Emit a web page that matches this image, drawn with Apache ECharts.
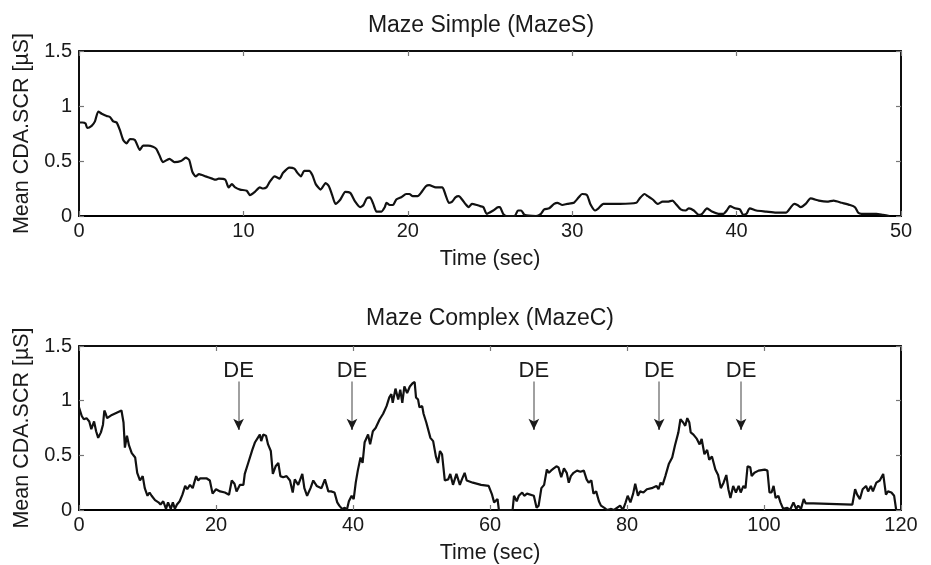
<!DOCTYPE html>
<html>
<head>
<meta charset="utf-8">
<script src="https://cdn.jsdelivr.net/npm/echarts@6/dist/echarts.min.js"></script>
<style>
html, body { margin: 0; padding: 0; background: #fff; }
#main { width: 931px; height: 565px; }
</style>
</head>
<body>
<div id="main"></div>
<script>
/** ---------------- 数据 ---------------- */
// Maze Simple (MazeS)
var timeS = [0, 0.2, 0.4, 0.5, 0.77, 0.97, 1.17, 1.38, 1.68, 1.88, 2.08, 2.29, 2.49, 2.69, 2.89, 3.1, 3.4, 3.7, 3.9, 4.2,
	4.5, 4.7, 4.9, 5.1, 5.5, 5.8, 6.2, 6.5, 6.7, 6.9, 7.1, 7.3, 7.7, 8.1, 8.3, 8.5, 8.9, 9.1, 9.3, 9.5,
	9.8, 10.2, 10.4, 10.7, 11.0, 11.2, 11.4, 11.6, 11.9, 12.2, 12.4, 12.8, 13.1, 13.3, 13.5, 13.7, 14.0, 14.2, 14.4, 14.7,
	15.0, 15.2, 15.4, 15.6, 15.9, 16.2, 16.5, 16.8, 17.1, 17.3, 17.5, 17.7, 17.9, 18.1, 18.4, 18.6, 18.7, 18.9, 19.1, 19.3,
	19.6, 19.9, 20.1, 20.3, 20.6, 20.8, 21.1, 21.3, 21.7, 22.1, 22.3, 22.5, 22.7, 22.9, 23.1, 23.3, 23.5, 23.7, 23.9, 24.2,
	24.4, 24.6, 24.8, 25.2, 25.5, 25.6, 25.8, 26.0, 26.5, 26.7, 26.9, 27.1, 27.8, 28.1, 28.3, 28.6, 28.9, 29.1, 29.4, 29.7,
	30.1, 30.4, 30.6, 30.9, 31.1, 31.4, 31.6, 31.9, 32.9, 33.9, 34.1, 34.4, 34.6, 34.9, 35.2, 35.5, 35.8, 36.1, 36.3, 36.6,
	36.9, 37.1, 37.4, 37.7, 37.9, 38.2, 38.5, 38.9, 39.2, 39.4, 39.6, 39.9, 40.2, 40.4, 40.6, 40.8, 41.2, 41.8, 42.4, 43.0,
	43.3, 43.5, 43.7, 43.9, 44.2, 44.5, 45.0, 45.5, 45.9, 46.4, 46.9, 47.2, 47.4, 47.6, 48.5, 48.9, 49.3];
var cdaS = [0.85, 0.85, 0.84, 0.80, 0.82, 0.86, 0.95, 0.93, 0.91, 0.90, 0.86, 0.85, 0.78, 0.69, 0.66, 0.70, 0.69, 0.60, 0.64, 0.64,
	0.63, 0.61, 0.55, 0.49, 0.52, 0.49, 0.50, 0.53, 0.51, 0.40, 0.36, 0.38, 0.36, 0.34, 0.33, 0.34, 0.33, 0.26, 0.29, 0.26,
	0.24, 0.23, 0.19, 0.22, 0.26, 0.25, 0.26, 0.31, 0.36, 0.34, 0.39, 0.44, 0.43, 0.39, 0.36, 0.41, 0.41, 0.37, 0.29, 0.24,
	0.30, 0.27, 0.19, 0.11, 0.15, 0.22, 0.21, 0.13, 0.08, 0.10, 0.16, 0.17, 0.11, 0.04, 0.04, 0.08, 0.12, 0.10, 0.10, 0.15,
	0.17, 0.20, 0.20, 0.18, 0.18, 0.21, 0.27, 0.28, 0.26, 0.26, 0.19, 0.12, 0.13, 0.17, 0.18, 0.15, 0.11, 0.08, 0.11, 0.10,
	0.09, 0.08, 0.02, 0.05, 0.08, 0.08, 0.02, 0, 0, 0.05, 0.05, 0.01, 0, 0.02, 0.06, 0.07, 0.11, 0.12, 0.10, 0.11,
	0.12, 0.17, 0.20, 0.19, 0.11, 0.05, 0.07, 0.11, 0.11, 0.12, 0.16, 0.20, 0.18, 0.15, 0.11, 0.13, 0.13, 0.14, 0.11, 0.06,
	0.05, 0.07, 0.05, 0.01, 0.02, 0.07, 0.04, 0.02, 0.02, 0.05, 0.09, 0.07, 0.06, 0.01, 0.02, 0.07, 0.05, 0.04, 0.03, 0.03,
	0.08, 0.11, 0.10, 0.08, 0.11, 0.16, 0.14, 0.13, 0.14, 0.12, 0.10, 0.08, 0.03, 0.02, 0.02, 0.01, 0];

// Maze Complex (MazeC)
var timeC = [0, 0.4, 0.7, 1.1, 1.5, 1.8, 2.2, 2.5, 2.8, 3.2, 3.5, 3.7, 3.9, 4.1, 4.8, 5.5, 6.2, 6.5, 6.7, 7.0,
	7.3, 7.7, 8.2, 8.5, 8.9, 9.3, 9.6, 10.0, 10.3, 10.6, 11.1, 11.6, 11.9, 12.3, 12.7, 13.0, 13.4, 13.7, 14.0, 14.3,
	14.7, 15.1, 15.5, 15.8, 16.2, 16.6, 17.1, 17.4, 17.7, 18.6, 19.1, 19.5, 20.0, 20.6, 21.3, 21.9, 22.3, 22.7, 23.0, 23.5,
	24.0, 24.2, 24.7, 25.3, 25.7, 26.1, 26.4, 26.6, 26.9, 27.3, 27.6, 28.0, 28.3, 28.7, 29.1, 29.4, 29.8, 30.3, 30.8, 31.2,
	31.5, 32.0, 32.6, 32.9, 33.3, 33.8, 34.2, 34.7, 35.4, 35.9, 36.4, 36.8, 37.3, 37.7, 38.0, 38.4, 38.8, 39.1, 39.4, 39.8,
	40.1, 40.4, 40.7, 41.1, 41.4, 41.7, 42.2, 42.5, 42.9, 43.3, 43.9, 44.4, 44.9, 45.3, 45.6, 45.8, 46.2, 46.6, 46.9, 47.2,
	47.5, 47.9, 48.3, 48.7, 49.0, 49.2, 49.5, 49.7, 50.1, 50.3, 50.7, 50.9, 51.3, 51.7, 52.1, 52.4, 52.7, 53.0, 53.4, 53.9,
	54.2, 54.6, 55.1, 55.6, 55.9, 56.3, 56.6, 57.5, 58.7, 59.8, 60.3, 60.6, 61.1, 61.3, 63.3, 63.5, 63.9, 64.2, 64.7, 65.0,
	65.4, 66.4, 66.8, 67.1, 67.5, 67.9, 68.3, 68.6, 68.9, 69.3, 69.7, 70.0, 70.4, 70.8, 71.2, 71.5, 71.8, 72.2, 72.7, 73.2,
	73.7, 74.1, 74.4, 74.8, 75.1, 75.5, 75.9, 76.2, 76.7, 77.1, 77.7, 78.1, 79.0, 79.4, 79.8, 80.1, 80.5, 80.9, 81.2, 81.6,
	81.9, 82.4, 82.9, 83.6, 84.3, 84.6, 84.9, 85.2, 85.6, 86.1, 86.6, 87.0, 87.5, 87.8, 88.2, 88.5, 88.8, 89.1, 89.3, 89.7,
	90.2, 90.6, 90.9, 91.3, 91.7, 92.0, 92.4, 92.9, 93.3, 93.7, 94.1, 94.5, 94.8, 95.1, 95.5, 95.9, 96.3, 96.6, 97.0, 97.3,
	97.6, 98.0, 98.2, 98.6, 99.2, 100.1, 100.5, 100.8, 101.1, 101.4, 101.7, 102.1, 102.4, 102.8, 103.4, 103.8, 104.3, 104.7, 105.0, 105.4,
	105.8, 106.1, 107.2, 112.9, 113.3, 113.6, 114.0, 114.4, 114.9, 115.2, 115.6, 115.9, 116.4, 116.9, 117.4, 117.8, 118.1, 118.6, 119.0, 119.3];
var cdaC = [0.94, 0.86, 0.83, 0.84, 0.81, 0.74, 0.81, 0.72, 0.66, 0.71, 0.78, 0.91, 0.88, 0.84, 0.87, 0.89, 0.91, 0.80, 0.57, 0.68,
	0.59, 0.52, 0.48, 0.34, 0.27, 0.31, 0.20, 0.13, 0.16, 0.13, 0.09, 0.07, 0.05, 0.08, 0.01, 0.07, 0.01, 0.07, 0.01, 0.05,
	0.08, 0.14, 0.22, 0.19, 0.23, 0.20, 0.31, 0.27, 0.29, 0.29, 0.27, 0.15, 0.19, 0.17, 0.16, 0.14, 0.27, 0.24, 0.17, 0.23,
	0.23, 0.33, 0.43, 0.55, 0.62, 0.66, 0.69, 0.63, 0.69, 0.68, 0.60, 0.54, 0.33, 0.40, 0.43, 0.31, 0.30, 0.31, 0.27, 0.16,
	0.28, 0.23, 0.33, 0.20, 0.13, 0.20, 0.27, 0.22, 0.20, 0.28, 0.17, 0.17, 0.16, 0.07, 0.04, 0.01, 0.02, 0, 0.08, 0.13,
	0.10, 0.25, 0.36, 0.48, 0.43, 0.62, 0.69, 0.60, 0.72, 0.75, 0.83, 0.88, 0.95, 1.03, 1.06, 0.98, 1.11, 1.01, 1.10, 0.98,
	1.13, 1.07, 1.13, 1.16, 1.17, 1.03, 1.01, 0.94, 0.95, 0.88, 0.80, 0.81, 0.66, 0.63, 0.49, 0.43, 0.54, 0.51, 0.27, 0.28,
	0.33, 0.23, 0.33, 0.23, 0.28, 0.34, 0.27, 0.25, 0.23, 0.22, 0.14, 0.07, 0.10, 0, 0, 0.13, 0.08, 0.13, 0.16, 0.13,
	0.15, 0.13, 0.02, 0.04, 0.20, 0.23, 0.37, 0.34, 0.36, 0.38, 0.40, 0.39, 0.30, 0.38, 0.34, 0.25, 0.31, 0.34, 0.36, 0.35,
	0.36, 0.28, 0.25, 0.27, 0.15, 0.17, 0.08, 0.04, 0.02, 0, 0.01, 0, 0.04, 0, 0.07, 0.13, 0.07, 0.15, 0.24, 0.13,
	0.17, 0.16, 0.19, 0.20, 0.22, 0.19, 0.25, 0.23, 0.31, 0.42, 0.48, 0.59, 0.71, 0.83, 0.80, 0.77, 0.84, 0.80, 0.71, 0.69,
	0.65, 0.60, 0.65, 0.51, 0.55, 0.46, 0.49, 0.37, 0.32, 0.20, 0.25, 0.32, 0.19, 0.11, 0.22, 0.16, 0.22, 0.16, 0.22, 0.20,
	0.40, 0.39, 0.31, 0.34, 0.36, 0.37, 0.36, 0.16, 0.16, 0.22, 0.11, 0.13, 0.07, 0.01, 0.02, 0, 0.07, 0.01, 0.04, 0.01,
	0.10, 0.06, 0.06, 0.05, 0.19, 0.14, 0.10, 0.19, 0.22, 0.17, 0.22, 0.17, 0.25, 0.27, 0.33, 0.14, 0.17, 0.16, 0.13, 0];

// DE 事件时刻 (秒)
var deTimes = [23.3, 39.85, 66.4, 84.7, 96.65];
var deLabel = 'DE';

// 坐标轴刻度
var yTicks = [0, 0.5, 1, 1.5];
var xMaxS = 50, xStepS = 10;
var xMaxC = 120, xStepC = 20;

var FONT = '"Liberation Sans", Arial, Helvetica, sans-serif';

/** -------- 组合数据 -------- */
function toPairs(xs, ys) {
	var out = [];
	for (var i = 0; i < xs.length; i++) {
		out.push([xs[i], ys[i]]);
	}
	return out;
}

/** -------- 坐标轴 -------- */
function makeXAxis(grid, max, step, pos) {
	var main = pos === 'bottom';
	return {
		type: 'value',
		gridIndex: grid,
		position: pos,
		min: 0,
		max: max,
		interval: step,
		name: main ? 'Time (sec)' : '',
		nameLocation: 'middle',
		nameGap: 32,
		nameTextStyle: { fontSize: 21.5, color: '#1a1a1a', fontFamily: FONT },
		axisLine: { show: true, onZero: false, lineStyle: { color: '#000', width: main ? 2 : 1.5 } },
		axisTick: { show: true, inside: true, length: 5, lineStyle: { color: '#777', width: 1.2 } },
		axisLabel: { show: main, fontSize: 20, color: '#1a1a1a', margin: 5, fontFamily: FONT },
		splitLine: { show: false }
	};
}

function makeYAxis(grid, pos) {
	var main = pos === 'left';
	return {
		type: 'value',
		gridIndex: grid,
		position: pos,
		min: yTicks[0],
		max: yTicks[yTicks.length - 1],
		interval: yTicks[1] - yTicks[0],
		name: main ? 'Mean CDA.SCR [µS]' : '',
		nameLocation: 'middle',
		nameGap: 40,
		nameTextStyle: { fontSize: 21.5, color: '#1a1a1a', fontFamily: FONT },
		axisLine: { show: true, onZero: false, lineStyle: { color: '#000', width: 1.5 } },
		axisTick: { show: true, inside: true, length: 5, lineStyle: { color: '#777', width: 1.2 } },
		axisLabel: { show: main, fontSize: 20, color: '#1a1a1a', margin: 7, fontFamily: FONT },
		splitLine: { show: false }
	};
}

/** -------- DE 箭头 -------- */
function deArrows() {
	var list = [];
	for (var i = 0; i < deTimes.length; i++) {
		var t = deTimes[i];
		// 灰色竖线
		list.push([
			{ coord: [t, 1.175], symbol: 'none', lineStyle: { color: '#808080', width: 1.5 } },
			{ coord: [t, 0.76], symbol: 'none' }
		]);
		// 深色箭头
		list.push([
			{ coord: [t, 0.8], symbol: 'none', lineStyle: { color: '#1a1a1a', width: 1.5 } },
			{ coord: [t, 0.735], symbol: 'arrow' }
		]);
	}
	return list;
}

var chart = echarts.init(document.getElementById('main'), null, { renderer: 'canvas' });

var option = {
	animation: false,
	backgroundColor: '#fff',
	textStyle: { fontFamily: FONT },
	graphic: [
		{ type: 'text', x: 481, y: 26, style: { text: 'Maze Simple (MazeS)', fontSize: 23, fill: '#1a1a1a', fontFamily: FONT, textAlign: 'center', textVerticalAlign: 'middle' } },
		{ type: 'text', x: 490, y: 319, style: { text: 'Maze Complex (MazeC)', fontSize: 23, fill: '#1a1a1a', fontFamily: FONT, textAlign: 'center', textVerticalAlign: 'middle' } }
	],
	grid: [
		{ left: 79, right: 30, top: 51, height: 165, show: true, borderColor: '#000', borderWidth: 1.5 },
		{ left: 79, right: 30, top: 346, height: 165, show: true, borderColor: '#000', borderWidth: 1.5 }
	],
	xAxis: [
		makeXAxis(0, xMaxS, xStepS, 'bottom'),
		makeXAxis(0, xMaxS, xStepS, 'top'),
		makeXAxis(1, xMaxC, xStepC, 'bottom'),
		makeXAxis(1, xMaxC, xStepC, 'top')
	],
	yAxis: [
		makeYAxis(0, 'left'),
		makeYAxis(0, 'right'),
		makeYAxis(1, 'left'),
		makeYAxis(1, 'right')
	],
	series: [
		{
			name: 'MazeS',
			type: 'line',
			xAxisIndex: 0,
			yAxisIndex: 0,
			data: toPairs(timeS, cdaS),
			showSymbol: false,
			smooth: 0.2,
			lineStyle: { color: '#111', width: 2.2 }
		},
		{
			name: 'MazeC',
			type: 'line',
			xAxisIndex: 2,
			yAxisIndex: 2,
			data: toPairs(timeC, cdaC),
			showSymbol: false,
			lineStyle: { color: '#111', width: 2.2 }
		},
		{
			name: 'DE',
			type: 'scatter',
			xAxisIndex: 2,
			yAxisIndex: 2,
			symbolSize: 0,
			silent: true,
			itemStyle: { opacity: 1 },
			data: toPairs(deTimes, deTimes.map(function () { return 1.275; })),
			label: {
				show: true,
				position: 'inside',
				formatter: deLabel,
				fontSize: 22,
				color: '#1a1a1a',
				opacity: 1,
				fontFamily: FONT
			},
			markLine: {
				silent: true,
				symbolSize: [8, 11],
				label: { show: false },
				lineStyle: { type: 'solid' },
				data: deArrows()
			}
		}
	]
};

chart.setOption(option);
</script>
</body>
</html>
